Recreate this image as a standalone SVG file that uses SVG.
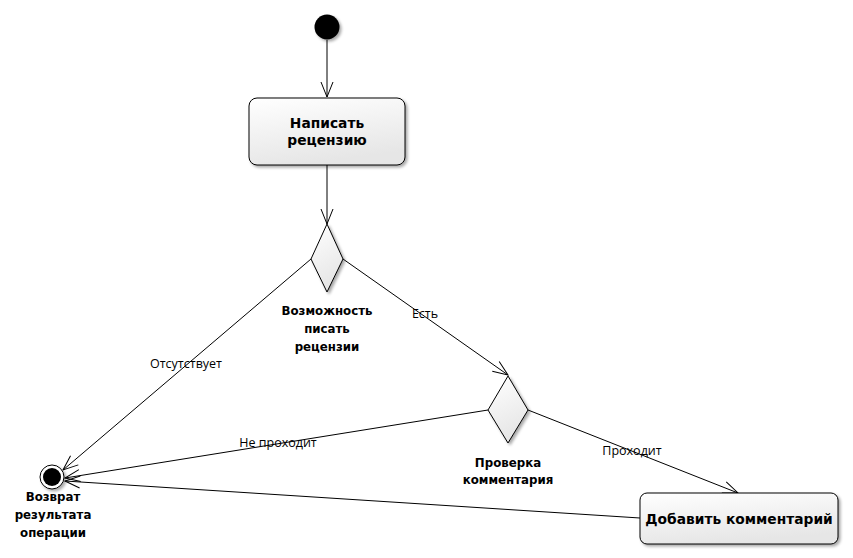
<svg xmlns="http://www.w3.org/2000/svg" width="853" height="558" viewBox="0 0 853 558">
<style>
.edge{stroke:#000;stroke-width:1;fill:none}
.node{stroke:#000;stroke-width:1;fill:url(#g)}
.bt{font-family:"DejaVu Sans",Verdana,sans-serif;font-weight:bold;font-size:13.8px;fill:#000;text-anchor:middle}
.bs{font-family:"DejaVu Sans",Verdana,sans-serif;font-weight:bold;font-size:11.8px;fill:#000;text-anchor:middle}
.lt{font-family:"Open Sans","Noto Sans",sans-serif;font-size:12.5px;fill:#000;text-anchor:middle}
</style>
<defs>
<linearGradient id="g" x1="0" y1="0" x2="0.3" y2="1">
<stop offset="0" stop-color="#ffffff"/>
<stop offset="1" stop-color="#e6e6e6"/>
</linearGradient>
<filter id="sh" x="-20%" y="-20%" width="140%" height="140%">
<feGaussianBlur in="SourceAlpha" stdDeviation="1.5"/>
<feOffset dx="1.5" dy="1.5"/>
<feComponentTransfer><feFuncA type="linear" slope="0.35"/></feComponentTransfer>
<feMerge><feMergeNode/><feMergeNode in="SourceGraphic"/></feMerge>
</filter>
<marker id="a" markerWidth="18" markerHeight="14" refX="16" refY="7" orient="auto" markerUnits="userSpaceOnUse">
<path d="M1,1 L16,7 L1,13" fill="none" stroke="#000" stroke-width="1"/>
</marker>
</defs>
<g id="connectors">
<line class="edge" x1="327" y1="40" x2="327" y2="97" marker-end="url(#a)"/>
<line class="edge" x1="327" y1="165" x2="327" y2="224" marker-end="url(#a)"/>
<line class="edge" x1="343" y1="259" x2="508" y2="375" marker-end="url(#a)"/>
<text class="lt" x="425" y="318">Есть</text>
<line class="edge" x1="311" y1="259" x2="63" y2="470" marker-end="url(#a)"/>
<text class="lt" x="186" y="368">Отсутствует</text>
<line class="edge" x1="488" y1="410" x2="65" y2="478" marker-end="url(#a)"/>
<text class="lt" x="278" y="447">Не проходит</text>
<line class="edge" x1="528" y1="410" x2="738" y2="493" marker-end="url(#a)"/>
<text class="lt" x="632" y="455">Проходит</text>
<line class="edge" x1="640" y1="518" x2="65" y2="481" marker-end="url(#a)"/>
</g>
<g id="start">
<circle cx="327" cy="27" r="12.5" fill="#000" filter="url(#sh)"/>
</g>
<g id="write-review">
<rect class="node" x="249" y="98" width="156" height="67" rx="8" filter="url(#sh)"/>
<text class="bt" x="327" y="128">Написать</text>
<text class="bt" x="327" y="145">рецензию</text>
</g>
<g id="decision-can-review">
<polygon class="node" points="327,224 343,259 327,292 311,259" filter="url(#sh)"/>
<text class="bs" x="327" y="315">Возможность</text>
<text class="bs" x="327" y="333">писать</text>
<text class="bs" x="327" y="351">рецензии</text>
</g>
<g id="decision-check-comment">
<polygon class="node" points="508,376 528,410 508,443 488,410" filter="url(#sh)"/>
<text class="bs" x="508" y="467">Проверка</text>
<text class="bs" x="508" y="484">комментария</text>
</g>
<g id="add-comment">
<rect class="node" x="640" y="493" width="198" height="51" rx="7" filter="url(#sh)"/>
<text class="bt" x="739" y="524">Добавить комментарий</text>
</g>
<g id="final">
<circle cx="52" cy="477" r="12" fill="#fff" stroke="#000" stroke-width="1" filter="url(#sh)"/>
<circle cx="52" cy="477" r="9" fill="#000"/>
<text class="bs" x="53" y="501">Возврат</text>
<text class="bs" x="53" y="519">результата</text>
<text class="bs" x="53" y="537">операции</text>
</g>
</svg>
